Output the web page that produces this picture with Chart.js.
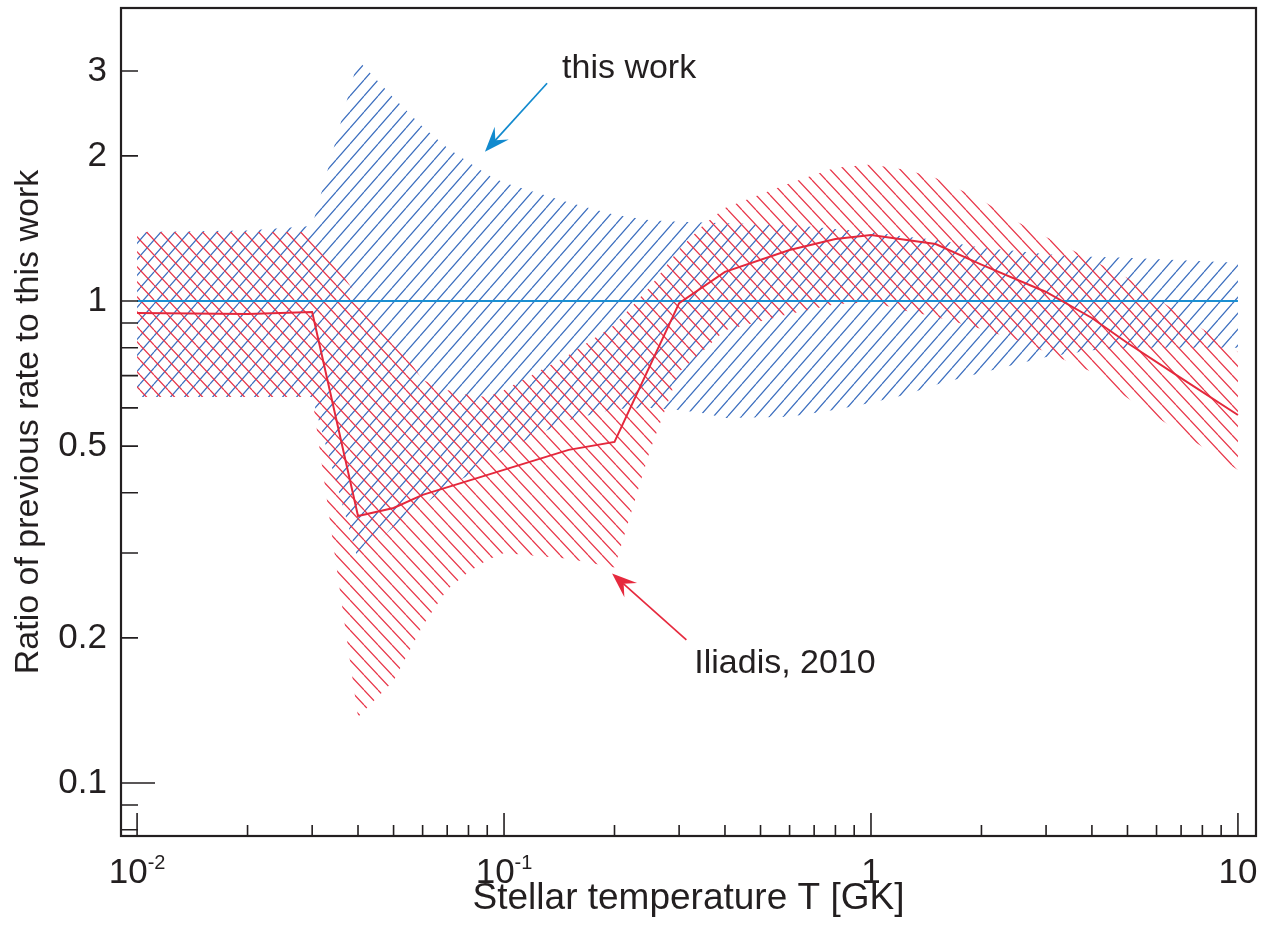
<!DOCTYPE html>
<html>
<head>
<meta charset="utf-8">
<script src="https://cdn.jsdelivr.net/npm/chart.js@4.4.1/dist/chart.umd.min.js"></script>
<style>
  html, body { margin: 0; background: #fff; }
  #wrap { width: 1270px; height: 932px; }
</style>
</head>
<body>
<div id="wrap"><canvas id="c"></canvas></div>
<script>
// temperature grid (GK) shared by both uncertainty bands
const tempGrid = [0.01, 0.02, 0.03, 0.04, 0.05, 0.06, 0.07, 0.08, 0.09, 0.1, 0.15, 0.2, 0.25, 0.3, 0.35, 0.4,
                  0.6, 0.8, 1, 1.25, 1.5, 2, 2.5, 3, 4, 5, 7, 10];

// this work: upper / lower limits of the ratio
const thisWorkHigh = [1.39, 1.40, 1.43, 3.16, 2.64, 2.30, 2.08, 1.94, 1.83, 1.76, 1.60, 1.51, 1.47, 1.46, 1.455, 1.45,
                      1.44, 1.41, 1.39, 1.36, 1.34, 1.29, 1.27, 1.25, 1.235, 1.23, 1.215, 1.20];
const thisWorkLow  = [0.632, 0.632, 0.632, 0.29, 0.34, 0.377, 0.41, 0.435, 0.468, 0.49, 0.566, 0.597, 0.60, 0.594, 0.585, 0.572,
                      0.575, 0.595, 0.615, 0.64, 0.67, 0.71, 0.74, 0.765, 0.79, 0.80, 0.80, 0.80];

// Iliadis 2010: upper / lower limits
const iliadisHigh = [1.39, 1.39, 1.39, 1.02, 0.84, 0.686, 0.654, 0.638, 0.632, 0.654, 0.773, 0.892, 1.07, 1.28, 1.44, 1.56,
                     1.756, 1.89, 1.92, 1.87, 1.80, 1.62, 1.46, 1.357, 1.216, 1.116, 0.935, 0.784];
const iliadisLow  = [0.632, 0.632, 0.632, 0.137, 0.163, 0.212, 0.252, 0.274, 0.29, 0.30, 0.292, 0.28, 0.49, 0.712, 0.79, 0.87,
                     0.94, 0.985, 0.995, 0.953, 0.927, 0.875, 0.83, 0.784, 0.712, 0.629, 0.532, 0.446];

// Iliadis 2010 recommended rate / this work
const iliadisT     = [0.01, 0.02, 0.03, 0.04, 0.05, 0.06, 0.15, 0.2, 0.3, 0.4, 0.6, 0.8, 1, 1.5, 2, 3, 4, 5, 7, 10];
const iliadisRatio = [0.944, 0.94, 0.949, 0.358, 0.372, 0.396, 0.491, 0.51, 0.99, 1.149, 1.276, 1.345, 1.371, 1.313,
                      1.19, 1.044, 0.922, 0.818, 0.692, 0.58];

const unityT = [0.01, 10];
const unity  = [1, 1];

// x tick labels: base and exponent ('' = no exponent)
const xTickValues = [0.01, 0.1, 1, 10];
const xTickBase   = ['10', '10', '1', '10'];
const xTickExp    = ['-2', '-1', '', ''];
const xMinorTicks = [0.02, 0.03, 0.04, 0.05, 0.06, 0.07, 0.08, 0.09,
                     0.2, 0.3, 0.4, 0.5, 0.6, 0.7, 0.8, 0.9,
                     2, 3, 4, 5, 6, 7, 8, 9];
const yTickValues = [0.1, 0.2, 0.5, 1, 2, 3];
const yTickLabels = ['0.1', '0.2', '0.5', '1', '2', '3'];
const yMinorTicks = [0.08, 0.09, 0.3, 0.4, 0.6, 0.7, 0.8, 0.9];

const notes = [
  {text: 'this work', at: [0.1439, 3.03], tail: [0.131, 2.83], tip: [0.0887, 2.04], color: '#128ace'},
  {text: 'Iliadis, 2010', at: [0.33, 0.177], tail: [0.314, 0.198], tip: [0.197, 0.272], color: '#e62a3e'}
];

const FONT = '"Liberation Sans", Arial, Helvetica, sans-serif';
const INK = '#231f20';

const canvas = document.getElementById('c');
const ctx = canvas.getContext('2d');

// diagonal hatch tile; dir 1 = '/', -1 = '\'
function hatch(w, h, color, dir) {
  const t = document.createElement('canvas');
  t.width = w; t.height = h;
  const g = t.getContext('2d');
  g.strokeStyle = color;
  g.lineWidth = 1.25;
  g.beginPath();
  for (let k = -1; k <= 1; k++) {
    if (dir > 0) { g.moveTo(k * w, h); g.lineTo(k * w + w, 0); }
    else { g.moveTo(k * w, 0); g.lineTo(k * w + w, h); }
  }
  g.stroke();
  return ctx.createPattern(t, 'repeat');
}

const blueHatch = hatch(14, 16, '#3d6fbf', 1);
const redHatch = hatch(14, 15, '#e8374a', -1);

const pts = (xs, ys) => xs.map((x, i) => ({x: x, y: ys[i]}));

const band = (vals, fill, bg, order) => ({
  data: pts(tempGrid, vals),
  fill: fill,
  backgroundColor: bg,
  borderColor: 'rgba(0,0,0,0)',
  borderWidth: 0,
  pointRadius: 0,
  order: order
});

const frameTicks = {
  id: 'frameTicks',
  afterDraw(chart) {
    const {ctx, chartArea: a, scales: {x, y}} = chart;
    ctx.save();
    ctx.strokeStyle = INK;
    ctx.lineWidth = 1.6;
    ctx.beginPath();
    xTickValues.forEach(v => { const p = x.getPixelForValue(v); ctx.moveTo(p, a.bottom); ctx.lineTo(p, a.bottom - 23); });
    xMinorTicks.forEach(v => { const p = x.getPixelForValue(v); ctx.moveTo(p, a.bottom); ctx.lineTo(p, a.bottom - 11); });
    yTickValues.forEach(v => { const p = y.getPixelForValue(v); ctx.moveTo(a.left, p); ctx.lineTo(a.left + (v === 0.1 ? 34 : 17), p); });
    yMinorTicks.forEach(v => { const p = y.getPixelForValue(v); ctx.moveTo(a.left, p); ctx.lineTo(a.left + 17, p); });
    ctx.stroke();
    ctx.lineWidth = 2.2;
    ctx.strokeRect(a.left, a.top, a.right - a.left, a.bottom - a.top);

    // decade labels with raised exponent
    ctx.fillStyle = INK;
    ctx.textBaseline = 'alphabetic';
    ctx.textAlign = 'left';
    xTickValues.forEach((v, i) => {
      ctx.font = '35px ' + FONT;
      const wb = ctx.measureText(xTickBase[i]).width;
      ctx.font = '20px ' + FONT;
      const we = xTickExp[i] ? ctx.measureText(xTickExp[i]).width : 0;
      const left = x.getPixelForValue(v) - (wb + we) / 2;
      ctx.font = '35px ' + FONT;
      ctx.fillText(xTickBase[i], left, a.bottom + 47);
      if (we) {
        ctx.font = '20px ' + FONT;
        ctx.fillText(xTickExp[i], left + wb, a.bottom + 33);
      }
    });
    ctx.restore();
  }
};

const labels = {
  id: 'labels',
  afterDatasetsDraw(chart) {
    const {ctx, scales: {x, y}} = chart;
    ctx.save();
    notes.forEach(n => {
      const x0 = x.getPixelForValue(n.tail[0]), y0 = y.getPixelForValue(n.tail[1]);
      const x1 = x.getPixelForValue(n.tip[0]), y1 = y.getPixelForValue(n.tip[1]);
      const ang = Math.atan2(y1 - y0, x1 - x0);
      const c = Math.cos(ang), s = Math.sin(ang);
      const L = 25, W = 9.5;
      ctx.strokeStyle = n.color;
      ctx.fillStyle = n.color;
      ctx.lineWidth = 1.7;
      ctx.beginPath();
      ctx.moveTo(x0, y0);
      ctx.lineTo(x1 - c * L * 0.6, y1 - s * L * 0.6);
      ctx.stroke();
      ctx.beginPath();
      ctx.moveTo(x1, y1);
      ctx.lineTo(x1 - c * L - s * W, y1 - s * L + c * W);
      ctx.lineTo(x1 - c * L * 0.62, y1 - s * L * 0.62);
      ctx.lineTo(x1 - c * L + s * W, y1 - s * L - c * W);
      ctx.closePath();
      ctx.fill();
      ctx.fillStyle = INK;
      ctx.font = '34px ' + FONT;
      ctx.textAlign = 'left';
      ctx.textBaseline = 'middle';
      ctx.fillText(n.text, x.getPixelForValue(n.at[0]), y.getPixelForValue(n.at[1]));
    });
    ctx.restore();
  }
};

new Chart(ctx, {
  type: 'line',
  data: {
    datasets: [
      band(thisWorkHigh, '+1', blueHatch, 3),
      band(thisWorkLow, false, 'rgba(0,0,0,0)', 3),
      band(iliadisHigh, '+1', redHatch, 2),
      band(iliadisLow, false, 'rgba(0,0,0,0)', 2),
      {data: pts(unityT, unity), borderColor: '#1b8fd2', borderWidth: 2, pointRadius: 0, fill: false, order: 1},
      {data: pts(iliadisT, iliadisRatio), borderColor: '#e4283c', borderWidth: 2, pointRadius: 0, fill: false, order: 0}
    ]
  },
  options: {
    responsive: true,
    maintainAspectRatio: false,
    animation: false,
    events: [],
    layout: {padding: {left: 0, right: 14, top: 8, bottom: 0}},
    elements: {line: {tension: 0}},
    plugins: {legend: {display: false}, tooltip: {enabled: false}},
    scales: {
      x: {
        type: 'logarithmic',
        position: 'bottom',
        min: 0.00904,
        max: 11.2,
        afterFit: s => { s.height = 96; s.paddingLeft = 0; s.paddingRight = 0; },
        afterBuildTicks: s => { s.ticks = xTickValues.map(v => ({value: v})); },
        grid: {display: false, drawTicks: false},
        border: {display: false},
        ticks: {display: false},
        title: {display: true, text: 'Stellar temperature T [GK]', color: INK,
                font: {family: FONT, size: 37}, padding: {top: 0, bottom: 11}}
      },
      y: {
        type: 'logarithmic',
        position: 'left',
        min: 0.07762,
        max: 4.054,
        afterFit: s => { s.width = 121; s.paddingTop = 0; s.paddingBottom = 0; },
        afterBuildTicks: s => { s.ticks = yTickValues.map(v => ({value: v})); },
        grid: {display: false, drawTicks: false},
        border: {display: false},
        ticks: {
          autoSkip: false, padding: 14, color: INK,
          font: {family: FONT, size: 35},
          callback: v => yTickLabels[yTickValues.indexOf(v)]
        },
        title: {display: true, text: 'Ratio of previous rate to this work', color: INK,
                font: {family: FONT, size: 34}, padding: {top: 8, bottom: 0}}
      }
    }
  },
  plugins: [frameTicks, labels]
});
</script>
</body>
</html>
